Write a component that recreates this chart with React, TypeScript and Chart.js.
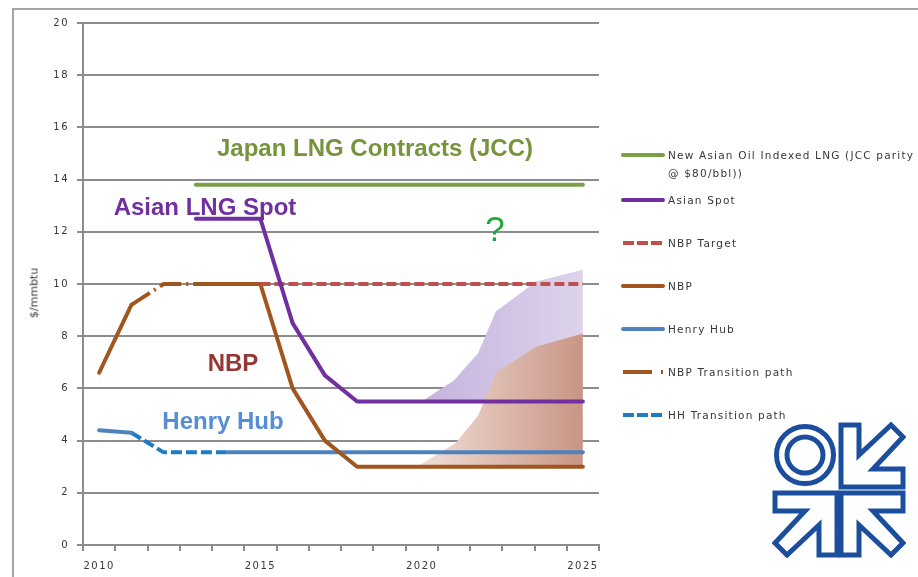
import React, { useEffect, useRef } from 'react';
import { Chart, registerables } from 'chart.js';

Chart.register(...registerables);

// ---------- data ----------
const years = ['2010', '2011', '2012', '2013', '2014', '2015', '2016', '2017', '2018', '2019', '2020', '2021', '2022', '2023', '2024', '2025'];

const jccParity = [null, null, null, 13.8, 13.8, 13.8, 13.8, 13.8, 13.8, 13.8, 13.8, 13.8, 13.8, 13.8, 13.8, 13.8];
const asianSpot = [null, null, null, 12.5, 12.5, 12.5, 8.5, 6.5, 5.5, 5.5, 5.5, 5.5, 5.5, 5.5, 5.5, 5.5];
const nbpTarget = [null, null, null, null, null, 10, 10, 10, 10, 10, 10, 10, 10, 10, 10, 10];
const nbp = [6.6, 9.2, null, 10, 10, 10, 6.0, 4.0, 3.0, 3.0, 3.0, 3.0, 3.0, 3.0, 3.0, 3.0];
const henryHub = [4.4, 4.3, null, null, 3.55, 3.55, 3.55, 3.55, 3.55, 3.55, 3.55, 3.55, 3.55, 3.55, 3.55, 3.55];
const nbpTransition = [null, 9.2, 10, 10, null, null, null, null, null, null, null, null, null, null, null, null];
const hhTransition = [null, 4.3, 3.55, 3.55, 3.55, null, null, null, null, null, null, null, null, null, null, null];

// uncertainty ranges (upper edges)
const asianRangeYears = [2020.0, 2021.0, 2021.75, 2022.3, 2023.55, 2025];
const asianRangeUpper = [5.5, 6.3, 7.35, 8.95, 10.1, 10.55];
const nbpRangeYears = [2019.85, 2021.05, 2021.75, 2022.3, 2023.55, 2025];
const nbpRangeUpper = [3.0, 3.9, 4.95, 6.6, 7.6, 8.1];

const yMin = 0;
const yMax = 20;
const yStep = 2;

// ---------- styles ----------
const GRID = '#8C8C8C';
const TEXT = '#383838';

const series = [
  { label: 'New Asian Oil Indexed LNG (JCC parity\n@ $80/bbl))', data: jccParity, color: '#79A046', dash: [] as number[], legendDash: '' },
  { label: 'Asian Spot', data: asianSpot, color: '#7030A0', dash: [] as number[], legendDash: '' },
  { label: 'NBP Target', data: nbpTarget, color: '#C0504D', dash: [10, 4], legendDash: '11 3' },
  { label: 'NBP', data: nbp, color: '#A0561E', dash: [] as number[], legendDash: '' },
  { label: 'Henry Hub', data: henryHub, color: '#4F81BD', dash: [] as number[], legendDash: '' },
  { label: 'NBP Transition path', data: nbpTransition, color: '#A0561E', dash: [22, 5, 2, 5], legendDash: '29 9 3 40' },
  { label: 'HH Transition path', data: hhTransition, color: '#1F7BC4', dash: [11, 4], legendDash: '11 3' },
];

const legendY = [155, 200, 243, 286, 329, 372, 415];

const annotations = [
  { text: 'Japan LNG Contracts (JCC)', x: 375, y: 148, color: '#77933C', size: 24, weight: 'bold' },
  { text: 'Asian LNG Spot', x: 205, y: 207, color: '#7030A0', size: 24, weight: 'bold' },
  { text: 'NBP', x: 233, y: 363, color: '#953735', size: 24, weight: 'bold' },
  { text: 'Henry Hub', x: 223, y: 421, color: '#558ED5', size: 24, weight: 'bold' },
  { text: '?', x: 495, y: 228, color: '#1FA83A', size: 35, weight: 'normal' },
];

function Logo() {
  const c = '#1B4E9C';
  const tr = '68,2 86,2 86,32 118,2 130,14 100,46 130,46 130,64 68,64';
  const bl = '64,132 46,132 46,102 14,132 2,120 32,88 2,88 2,70 64,70';
  const br = '68,132 86,132 86,102 118,132 130,120 100,88 130,88 130,70 68,70';
  return (
    <svg width={134} height={136} viewBox="-1 -1 134 136" style={{ position: 'absolute', left: 772, top: 422 }}>
      <g fill="#fff" stroke={c} strokeWidth={5} strokeLinejoin="miter">
        <circle cx={32} cy={32} r={28.5} />
        <circle cx={32} cy={32} r={18} />
        <polygon points={tr} />
        <polygon points={bl} />
        <polygon points={br} />
      </g>
    </svg>
  );
}

const spacingPlugin = {
  id: 'tickSpacing',
  beforeDraw(chart: any) { chart.ctx.letterSpacing = '1.5px'; },
  afterDraw(chart: any) { chart.ctx.letterSpacing = '0px'; },
};

export default function App() {
  const ref = useRef<HTMLCanvasElement>(null);

  useEffect(() => {
    const canvas = ref.current;
    if (!canvas) return;

    const areaGradient = (from: string, to: string, x0: number, x1: number) => (ctx: any) => {
      const chart = ctx.chart;
      const sc = chart.scales && chart.scales.x2;
      if (!chart.chartArea || !sc) return from;
      const g = chart.ctx.createLinearGradient(sc.getPixelForValue(x0), 0, sc.getPixelForValue(x1), 0);
      g.addColorStop(0, from);
      g.addColorStop(1, to);
      return g;
    };

    const lineSets = series.map((s, i) => ({
      type: 'line',
      label: s.label,
      data: s.data,
      borderColor: s.color,
      backgroundColor: s.color,
      borderWidth: 4,
      borderDash: s.dash,
      borderCapStyle: s.dash.length ? 'butt' : 'round',
      borderJoinStyle: 'round',
      pointRadius: 0,
      pointHoverRadius: 0,
      fill: false,
      tension: 0,
      order: i,
      xAxisID: 'x',
      yAxisID: 'y',
    }));

    const areaSets = [
      {
        type: 'line',
        label: 'Asian Spot range',
        data: asianRangeYears.map((x, i) => ({ x, y: asianRangeUpper[i] })),
        xAxisID: 'x2',
        yAxisID: 'y',
        fill: { value: asianSpot[asianSpot.length - 1] },
        backgroundColor: areaGradient('#C5B3DE', '#DDD3EB', asianRangeYears[0], asianRangeYears[asianRangeYears.length - 1]),
        borderColor: 'rgba(0,0,0,0)',
        borderWidth: 1,
        pointRadius: 0,
        tension: 0,
        order: 21,
      },
      {
        type: 'line',
        label: 'NBP range',
        data: nbpRangeYears.map((x, i) => ({ x, y: nbpRangeUpper[i] })),
        xAxisID: 'x2',
        yAxisID: 'y',
        fill: { value: nbp[nbp.length - 1] },
        backgroundColor: areaGradient('#F1E0D8', '#C99585', nbpRangeYears[0], nbpRangeYears[nbpRangeYears.length - 1]),
        borderColor: 'rgba(0,0,0,0)',
        borderWidth: 1,
        pointRadius: 0,
        tension: 0,
        order: 20,
      },
    ];

    const tickFont = { family: "'DejaVu Sans', sans-serif", size: 10 };

    const chart = new Chart(canvas, {
      type: 'line',
      data: { labels: years, datasets: [...lineSets, ...areaSets] as any },
      plugins: [spacingPlugin],
      options: {
        responsive: false,
        maintainAspectRatio: false,
        animation: false,
        devicePixelRatio: 1,
        layout: { padding: { left: 0, top: 23, right: 319, bottom: 0 } },
        plugins: { legend: { display: false }, tooltip: { enabled: false } },
        events: [],
        scales: {
          x: {
            type: 'category',
            offset: true,
            grid: { offset: true, drawOnChartArea: false, drawTicks: true, tickLength: 6, color: GRID, lineWidth: 2 },
            border: { display: true, color: GRID, width: 2 },
            ticks: {
              autoSkip: false,
              maxRotation: 0,
              padding: 9,
              color: TEXT,
              font: tickFont,
              callback: (_v: any, i: number) => (Number(years[i]) % 5 === 0 ? years[i] : ''),
            },
            afterFit: (s: any) => { s.height = 32; },
          },
          x2: { type: 'linear', display: false, min: 2009.5, max: 2025.5 },
          y: {
            min: yMin,
            max: yMax,
            ticks: { stepSize: yStep, padding: 8, color: TEXT, font: tickFont },
            grid: { color: GRID, lineWidth: 2, tickLength: 6 },
            border: { color: GRID, width: 2 },
            afterFit: (s: any) => { s.width = 83; },
          },
        },
      } as any,
    });
    return () => chart.destroy();
  }, []);

  return (
    <div style={{ position: 'absolute', left: 0, top: 0, width: 918, height: 577, overflow: 'hidden', background: '#fff' }}>
      <div style={{ position: 'absolute', left: 12, top: 8, width: 960, height: 620, border: '2px solid #A6A6A6', boxSizing: 'border-box' }} />
      <canvas ref={ref} width={918} height={577} style={{ position: 'absolute', left: 0, top: 0, width: 918, height: 577 }} />
      <div style={{
        position: 'absolute', left: 34, top: 293, transform: 'translate(-50%,-50%) rotate(-90deg)',
        fontFamily: "'DejaVu Sans', sans-serif", fontSize: 11, color: TEXT, whiteSpace: 'nowrap', lineHeight: 1,
      }}>$/mmbtu</div>
      {annotations.map((a) => (
        <div key={a.text} style={{
          position: 'absolute', left: a.x, top: a.y, transform: 'translate(-50%,-50%)',
          fontFamily: "'Liberation Sans', Arial, sans-serif", fontWeight: a.weight as any, fontSize: a.size,
          color: a.color, whiteSpace: 'nowrap', lineHeight: 1,
        }}>{a.text}</div>
      ))}
      {series.map((s, i) => {
        const lines = s.label.split('\n');
        return (
          <div key={s.label} style={{ position: 'absolute', left: 621, top: legendY[i] - 8, height: 16 }}>
            <svg width={46} height={16} style={{ position: 'absolute', left: 0, top: 0 }}>
              <line x1={2} y1={8} x2={42} y2={8} stroke={s.color} strokeWidth={4}
                strokeDasharray={s.legendDash || undefined} strokeLinecap={s.legendDash ? 'butt' : 'round'} />
            </svg>
            <div style={{
              position: 'absolute', left: 47, top: -1, fontFamily: "'DejaVu Sans', sans-serif", fontSize: 10.5,
              letterSpacing: 1.2, color: TEXT, whiteSpace: 'nowrap', lineHeight: '18px',
            }}>
              {lines.map((l) => <div key={l}>{l}</div>)}
            </div>
          </div>
        );
      })}
      <Logo />
    </div>
  );
}
